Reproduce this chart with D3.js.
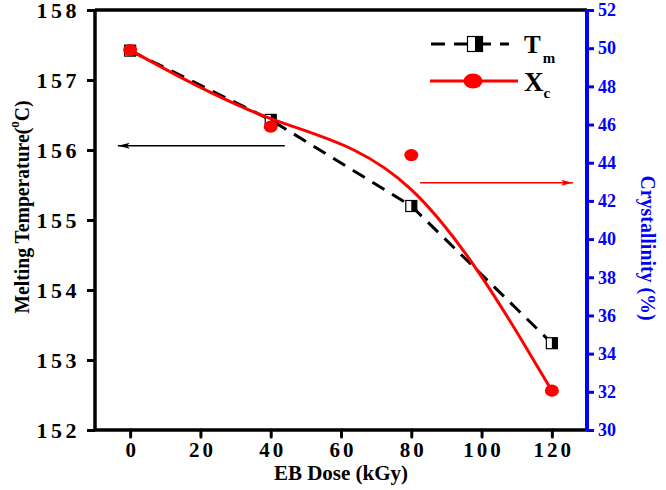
<!DOCTYPE html>
<html><head><meta charset="utf-8">
<script src="https://cdn.jsdelivr.net/npm/d3@7"></script>
<style>
html,body{margin:0;padding:0;background:#fff;}
svg{display:block;}
text{font-family:"Times New Roman","Liberation Serif",Tinos,Times,serif;font-weight:bold;}
</style></head>
<body>
<svg id="chart" width="666" height="490"></svg>
<script>
// ---- data ----
const dose = [0, 40, 80, 120];
const meltTemp = [157.42, 156.43, 155.2, 153.24];
const crystallinity = [49.9, 45.89, 44.4, 32.06];
const xTicks = [0, 20, 40, 60, 80, 100, 120];
const yLeftTicks = [152, 153, 154, 155, 156, 157, 158];
const yRightTicks = [30, 32, 34, 36, 38, 40, 42, 44, 46, 48, 50, 52];
// annotation arrows (data space): [x1, x2, y]
const leftArrow = [44, -3.5, 156.06];
const rightArrow = [82.5, 126, 42.95];

const svg = d3.select("#chart");
const L = 95, R = 587, T = 10, B = 430;
const x = d3.scaleLinear().domain([-10, 130]).range([L, R]);
const yL = d3.scaleLinear().domain([152, 158]).range([B, T]);
const yR = d3.scaleLinear().domain([30, 52]).range([B, T]);
const FONT = '"Times New Roman","Liberation Serif",Tinos,Times,serif';

const defs = svg.append("defs");
function marker(id, color) {
  defs.append("marker").attr("id", id).attr("viewBox", "0 0 12 6")
    .attr("refX", 12).attr("refY", 3).attr("markerWidth", 12).attr("markerHeight", 6)
    .attr("markerUnits", "userSpaceOnUse").attr("orient", "auto")
    .append("path").attr("d", "M0,0 L12,3 L0,6 L3,3 Z").attr("fill", color);
}
marker("arrB", "#000");
marker("arrR", "#ff0000");

// top border
svg.append("line").attr("x1", L).attr("x2", R).attr("y1", T).attr("y2", T)
  .attr("stroke", "#000").attr("stroke-width", 3.5);

// bottom axis
const gx = svg.append("g").attr("transform", `translate(0,${B})`)
  .call(d3.axisBottom(x).tickValues(xTicks).tickSize(7).tickPadding(5).tickFormat(d3.format("d")));
gx.attr("font-family", FONT);
gx.select(".domain").attr("stroke", "#000").attr("stroke-width", 3.5).attr("d", `M${L},0H${R}`);
gx.selectAll(".tick line").attr("stroke", "#000").attr("stroke-width", 3).attr("stroke-linecap", "round");
gx.selectAll(".tick text").attr("font-size", 21).attr("fill", "#000")
  .style("letter-spacing", "3px").attr("dx", "1.5px");

// left axis
const gl = svg.append("g").attr("transform", `translate(${L},0)`)
  .call(d3.axisLeft(yL).tickValues(yLeftTicks).tickSize(8).tickPadding(7).tickFormat(d3.format("d")));
gl.attr("font-family", FONT);
gl.select(".domain").attr("stroke", "#000").attr("stroke-width", 3.5).attr("d", `M0,${T}V${B}`);
gl.selectAll(".tick line").attr("stroke", "#000").attr("stroke-width", 3);
gl.selectAll(".tick text").attr("font-size", 22).attr("fill", "#000")
  .style("letter-spacing", "3.5px");

// right axis (blue)
const gr = svg.append("g").attr("transform", `translate(${R},0)`)
  .call(d3.axisRight(yR).tickValues(yRightTicks).tickSize(7).tickPadding(4).tickFormat(d3.format("d")));
gr.attr("font-family", FONT);
gr.select(".domain").attr("stroke", "#0000ff").attr("stroke-width", 4).attr("d", `M0,${T - 1}V${B + 1}`);
gr.selectAll(".tick line").attr("stroke", "#0000ff").attr("stroke-width", 3);
gr.selectAll(".tick text").attr("font-size", 18).attr("fill", "#0000ff");

// axis titles
svg.append("text").attr("x", 341).attr("y", 480).attr("text-anchor", "middle")
  .attr("font-size", 21).attr("fill", "#000").text("EB Dose (kGy)");

const yt = svg.append("text").attr("transform", "translate(29,207) rotate(-90)")
  .attr("text-anchor", "middle").attr("font-size", 21).attr("fill", "#000")
  .attr("textLength", 213).attr("lengthAdjust", "spacingAndGlyphs");
yt.append("tspan").text("Melting Temperature(");
yt.append("tspan").attr("font-size", 14).attr("dy", -10).text("o");
yt.append("tspan").attr("dy", 10).text("C)");

svg.append("text").attr("transform", "translate(641,248) rotate(90)")
  .attr("text-anchor", "middle").attr("font-size", 20).attr("fill", "#0000ff")
  .attr("textLength", 145).attr("lengthAdjust", "spacingAndGlyphs")
  .text("Crystallinity (%)");

// arrows
svg.append("line").attr("x1", x(leftArrow[0])).attr("x2", x(leftArrow[1]))
  .attr("y1", yL(leftArrow[2])).attr("y2", yL(leftArrow[2]))
  .attr("stroke", "#000").attr("stroke-width", 1.6).attr("marker-end", "url(#arrB)");
svg.append("line").attr("x1", x(rightArrow[0])).attr("x2", x(rightArrow[1]))
  .attr("y1", yR(rightArrow[2])).attr("y2", yR(rightArrow[2]))
  .attr("stroke", "#ff0000").attr("stroke-width", 1.6).attr("marker-end", "url(#arrR)");

// Tm series: dashed line + half-filled squares
const tmData = dose.map((d, i) => [d, meltTemp[i]]);
svg.append("path").datum(tmData)
  .attr("d", d3.line().x(d => x(d[0])).y(d => yL(d[1])))
  .attr("fill", "none").attr("stroke", "#000").attr("stroke-width", 3)
  .attr("stroke-dasharray", "14,9");
function sq(g, cx, cy, s) {
  g.append("rect").attr("x", cx - s / 2).attr("y", cy - s / 2).attr("width", s).attr("height", s)
    .attr("fill", "#fff").attr("stroke", "#000").attr("stroke-width", 1.2);
  g.append("rect").attr("x", cx).attr("y", cy - s / 2).attr("width", s / 2).attr("height", s)
    .attr("fill", "#000");
}
const sqG = svg.append("g");
tmData.forEach(d => sq(sqG, x(d[0]), yL(d[1]), 11));

// Xc series: B-spline smoothed red line + circles
const xcData = dose.map((d, i) => [d, crystallinity[i]]);
svg.append("path").datum(xcData)
  .attr("d", d3.line().x(d => x(d[0])).y(d => yR(d[1])).curve(d3.curveBasis))
  .attr("fill", "none").attr("stroke", "#ff0000").attr("stroke-width", 3);
svg.append("g").selectAll("ellipse").data(xcData).join("ellipse")
  .attr("cx", d => x(d[0])).attr("cy", d => yR(d[1]))
  .attr("rx", 7).attr("ry", 6.2).attr("fill", "#ff0000");

// legend
const lg = svg.append("g");
lg.append("line").attr("x1", 431).attr("x2", 509).attr("y1", 44).attr("y2", 44)
  .attr("stroke", "#000").attr("stroke-width", 3).attr("stroke-dasharray", "14,9");
sq(lg, 475, 44, 15);
const t1 = lg.append("text").attr("x", 524).attr("y", 53).attr("font-size", 25).attr("fill", "#000");
t1.append("tspan").text("T");
t1.append("tspan").attr("font-size", 15).attr("dy", 10).attr("dx", 2).text("m");
lg.append("line").attr("x1", 430).attr("x2", 518).attr("y1", 81).attr("y2", 81)
  .attr("stroke", "#ff0000").attr("stroke-width", 3);
lg.append("ellipse").attr("cx", 473).attr("cy", 81).attr("rx", 9.5).attr("ry", 7.5).attr("fill", "#ff0000");
const t2 = lg.append("text").attr("x", 524).attr("y", 91).attr("font-size", 27).attr("fill", "#000");
t2.append("tspan").text("X");
t2.append("tspan").attr("font-size", 15).attr("dy", 7).attr("dx", 0).text("c");
</script>
</body></html>
